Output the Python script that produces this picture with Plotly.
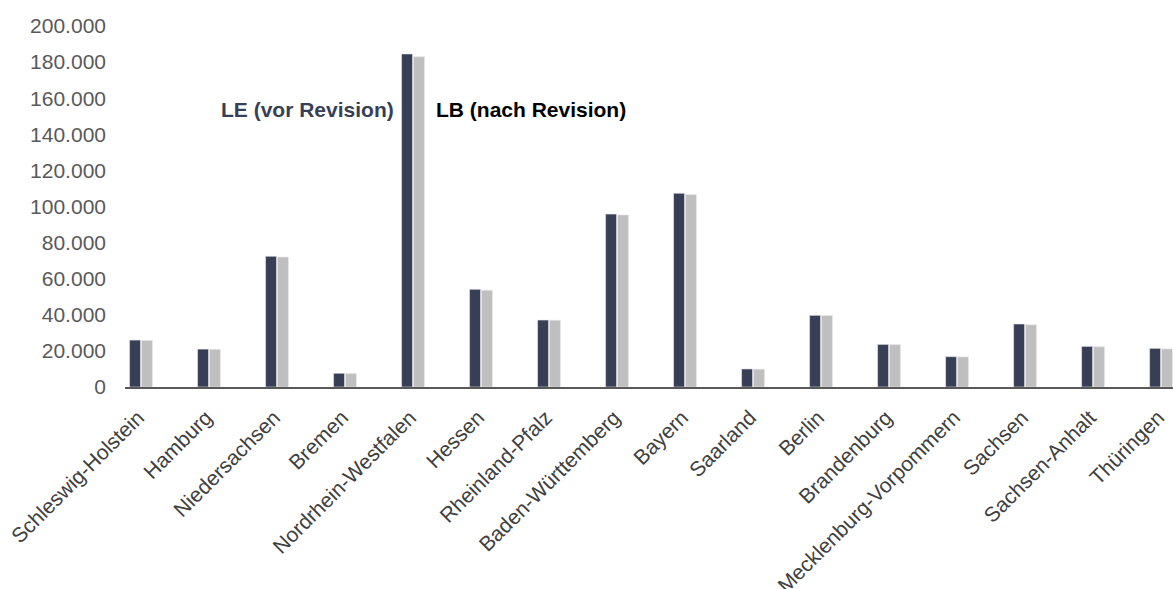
import plotly.graph_objects as go

# Bundesländer und Werte vor/nach Revision
laender = [
    "Schleswig-Holstein", "Hamburg", "Niedersachsen", "Bremen",
    "Nordrhein-Westfalen", "Hessen", "Rheinland-Pfalz", "Baden-Württemberg",
    "Bayern", "Saarland", "Berlin", "Brandenburg",
    "Mecklenburg-Vorpommern", "Sachsen", "Sachsen-Anhalt", "Thüringen",
]
le_vor_revision = [26000, 21000, 72400, 7600, 184500, 54100, 37100, 95800,
                   107300, 10000, 39700, 23600, 16800, 34900, 22500, 21400]
lb_nach_revision = [25800, 20900, 72000, 7500, 183000, 53600, 37000, 95300,
                    106600, 9900, 39600, 23500, 16700, 34500, 22300, 21100]

y_ticks = [0, 20000, 40000, 60000, 80000, 100000, 120000, 140000, 160000, 180000, 200000]
y_tick_text = ["0", "20.000", "40.000", "60.000", "80.000", "100.000", "120.000",
               "140.000", "160.000", "180.000", "200.000"]

DARK = "#363F55"
GREY = "#BFBFBF"
FONT = "Arial, Liberation Sans, sans-serif"

x = list(range(len(laender)))

fig = go.Figure()
fig.add_trace(go.Bar(x=x, y=le_vor_revision, name="LE (vor Revision)",
                     marker=dict(color=DARK, line=dict(color="#E8E8EC", width=0.6))))
fig.add_trace(go.Bar(x=x, y=lb_nach_revision, name="LB (nach Revision)",
                     marker=dict(color=GREY, line=dict(color="#E8E8E8", width=0.6))))

fig.update_layout(
    width=1173, height=589,
    margin=dict(l=125, r=0, t=26, b=202),
    paper_bgcolor="white", plot_bgcolor="white",
    barmode="group", bargap=0.65, bargroupgap=0.08,
    showlegend=False,
    font=dict(family=FONT),
    xaxis=dict(
        range=[-0.235, 15.176], automargin=False,
        tickmode="array", tickvals=x, ticktext=laender,
        tickangle=-45, tickfont=dict(size=21, color="#404040"),
        showgrid=False, zeroline=False,
        showline=True, linecolor="#595959", linewidth=2,
        ticks="", ticklabelstandoff=8, ticklabelshift=-3,
    ),
    yaxis=dict(
        range=[0, 200000], automargin=False,
        tickmode="array", tickvals=y_ticks, ticktext=y_tick_text,
        tickfont=dict(size=21, color="#595959"),
        showgrid=False, zeroline=False, showline=False,
        ticks="", ticklabelstandoff=18,
    ),
    annotations=[
        dict(x=3.75, y=153500, xref="x", yref="y", text="<b>LE (vor Revision)</b>",
             showarrow=False, xanchor="right", yanchor="middle",
             font=dict(size=21, color=DARK, family=FONT)),
        dict(x=4.31, y=153500, xref="x", yref="y", text="<b>LB (nach Revision)</b>",
             showarrow=False, xanchor="left", yanchor="middle",
             font=dict(size=21, color="#000000", family=FONT)),
    ],
)

fig.write_html("out.html")
